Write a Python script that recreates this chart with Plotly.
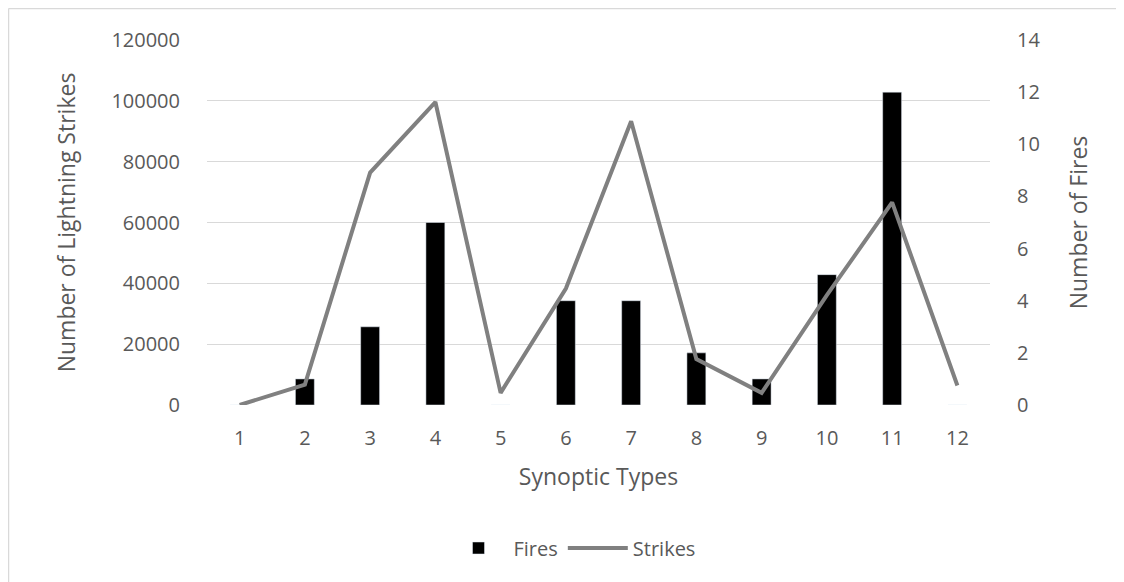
import plotly.graph_objects as go

categories = ["1", "2", "3", "4", "5", "6", "7", "8", "9", "10", "11", "12"]
fires = [0, 1, 3, 7, 0, 4, 4, 2, 1, 5, 12, 0]
strikes = [0, 6700, 76400, 99600, 4000, 38300, 93300, 15100, 4000, 36100, 66600, 6400]

FONT = "Open Sans"
GREY = "#595959"

# page is offset by the browser's 8px body margin
OFF = 8
W, H = 1124 - OFF, 582 - OFF
L, T = 207 - OFF, 40 - OFF
R = W - (990 - OFF)
B = H - (405 - OFF)
pw, ph = W - L - R, H - T - B


def px(x):
    return (x - OFF - L) / pw


def py(y):
    return (H - B - (y - OFF)) / ph


fig = go.Figure()
fig.add_trace(go.Bar(
    x=categories, y=fires, name="Fires", marker_color="#000000",
    width=0.29, yaxis="y",
))
fig.add_trace(go.Scatter(
    x=categories, y=strikes, name="Strikes", mode="lines",
    line=dict(color="#808080", width=4), yaxis="y2",
))

border = dict(color="#d9d9d9", width=1.5)
fig.update_layout(
    width=W, height=H,
    margin=dict(l=L, r=R, t=T, b=B),
    paper_bgcolor="white", plot_bgcolor="white",
    font=dict(family=FONT, size=20, color=GREY),
    showlegend=True,
    legend=dict(orientation="h", x=px(572), xanchor="center", y=py(548), yanchor="middle",
                font=dict(family=FONT, size=20, color=GREY), traceorder="normal",
                itemwidth=60),
    xaxis=dict(
        type="category", showgrid=False, showline=False, ticks="",
        tickfont=dict(family=FONT, size=20, color=GREY), ticklabelstandoff=19,
        title=dict(text="Synoptic Types", font=dict(family=FONT, size=23, color=GREY), standoff=18),
    ),
    yaxis=dict(
        side="right", range=[0, 14], dtick=2, showgrid=False, zeroline=False,
        showline=False, ticks="", tickfont=dict(family=FONT, size=20, color=GREY),
        ticklabelstandoff=26,
        title=dict(text="Number of Fires", font=dict(family=FONT, size=23, color=GREY), standoff=31),
    ),
    yaxis2=dict(
        overlaying="y", side="left", range=[0, 120000], dtick=20000, tickformat="d",
        showgrid=True, gridcolor="#d9d9d9", gridwidth=1, zeroline=False, showline=False,
        ticks="", tickfont=dict(family=FONT, size=20, color=GREY), ticklabelstandoff=26,
        title=dict(text="Number of Lightning Strikes", font=dict(family=FONT, size=23, color=GREY), standoff=29),
    ),
    shapes=[
        dict(type="line", xref="paper", yref="paper", x0=px(8.5), x1=px(1124), y0=py(8.5), y1=py(8.5),
             line=border, layer="below"),
        dict(type="line", xref="paper", yref="paper", x0=px(8.5), x1=px(8.5), y0=py(8.5), y1=py(582),
             line=border, layer="below"),
    ],
)

fig.write_html("out.html", post_script="document.body.style.overflow='hidden';")
